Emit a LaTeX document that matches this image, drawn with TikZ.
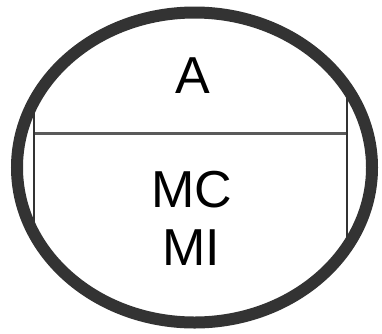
\documentclass[tikz,border=0pt]{standalone}
\usepackage{fontspec}
\setmainfont{Liberation Sans}
\usepackage{tikz}

\definecolor{ringgray}{HTML}{333333}
\definecolor{rulegray}{HTML}{5A5A5A}

\tikzset{
 label/.style={font=\fontsize{52}{57}\selectfont, text=black, anchor=base, inner sep=0pt},
 ring/.style={draw=ringgray, line width=12pt},
 divider/.style={draw=rulegray, line width=3pt},
 side/.style={draw=ringgray, line width=1.8pt}
}

\begin{document}
\begin{tikzpicture}[x=1pt, y=-1pt]
 \useasboundingbox (0,0) rectangle (382,333);
 % divider and side lines, cut off by the ring
 \begin{scope}
  \clip (194.5,167.5) ellipse [x radius=177.5, y radius=155];
  \draw[divider] (34,133) -- (347,133);
  \draw[side] (34,60) -- (34,290);
  \draw[side] (347,60) -- (347,290);
 \end{scope}
 \draw[ring] (194.5,167.5) ellipse [x radius=177.5, y radius=155];

 \node[label] (top) at (192.5,93) {A};
 \node[label] (mc) at (192,207) {MC};
 \node[label] (mi) at (191,265) {MI};
\end{tikzpicture}
\end{document}
